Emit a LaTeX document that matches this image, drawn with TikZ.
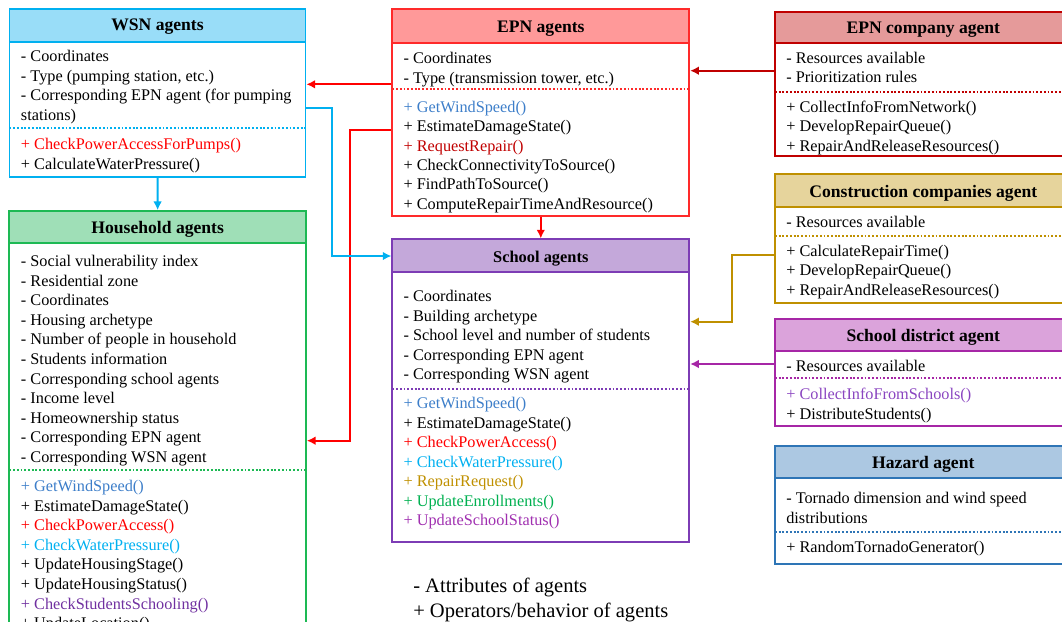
\documentclass[tikz,border=0pt]{standalone}
\usepackage{fontspec}
\setmainfont{Liberation Serif}
\usetikzlibrary{arrows.meta,fit}
\definecolor{cwsn}{HTML}{00B0F0}\definecolor{fwsn}{HTML}{99DDF8}
\definecolor{cepn}{HTML}{FF2A2A}\definecolor{fepn}{HTML}{FF9999}
\definecolor{chh}{HTML}{1DB954}\definecolor{fhh}{HTML}{9FDFB7}
\definecolor{csch}{HTML}{7D3CB5}\definecolor{fsch}{HTML}{C4A8DA}
\definecolor{cco}{HTML}{C00000}\definecolor{fco}{HTML}{E59A9A}
\definecolor{ccon}{HTML}{BF9000}\definecolor{fcon}{HTML}{E6D49C}
\definecolor{cdis}{HTML}{A626A6}\definecolor{fdis}{HTML}{DBA3DB}
\definecolor{chaz}{HTML}{2E75B6}\definecolor{fhaz}{HTML}{ACC8E2}
\definecolor{cwind}{HTML}{3D7EC9}
\definecolor{cpow}{HTML}{FF0000}
\definecolor{cwat}{HTML}{00B0F0}
\definecolor{crep}{HTML}{C00000}
\definecolor{cgold}{HTML}{BF9000}
\definecolor{cenr}{HTML}{00B050}
\definecolor{cstat}{HTML}{A030B0}
\definecolor{cstud}{HTML}{7030A0}
\definecolor{ccoll}{HTML}{8A45C0}
\newcommand{\agentbox}[9]{%
  \fill[#9] (#2,#3) rectangle (#4,#6);
  \node[fit={(#2,#3)(#4,#5)}, inner sep=0pt, draw=#8, line width=1.3pt] (#1) {};
  \draw[#8, line width=1.3pt] (#2,#6) -- (#4,#6);
  \draw[#8, line width=1.4pt, dash pattern=on 1.4pt off 1.4pt] (#2,#7) -- (#4,#7);
}
\newcommand{\agentlines}[5]{%
  \foreach [count=\i from 0] \t in {#5} \node[txt] (#1\i) at (#2,{#3+#4*\i}) {\t};
}
\begin{document}
\begin{tikzpicture}[x=0.75pt,y=-0.75pt,
  txt/.style={anchor=base west, inner sep=0pt, font=\fontsize{12.2}{14}\selectfont},
  ttl/.style={anchor=base, inner sep=0pt, font=\bfseries\fontsize{13.2}{15}\selectfont},
  conn/.style={line width=1.5pt, -{Latex[length=6.5pt,width=6.5pt]}}]
\useasboundingbox (0,0) rectangle (1062,621);
\clip (0,0) rectangle (1062,621);

% WSN
\agentbox{wsn}{9.5}{9}{305.5}{176.7}{41.7}{127.7}{cwsn}{fwsn}
\node[ttl] (wsnT) at (157.5,30.5) {WSN agents};
\agentlines{wsnA}{20.7}{61.5}{19.5}{{- Coordinates},{- Type (pumping station, etc.)},{- Corresponding EPN agent (for pumping},{stations)}}
\agentlines{wsnM}{20.7}{149.8}{19.2}{{\color{cpow}+ CheckPowerAccessForPumps()},{+ CalculateWaterPressure()}}

% Household
\agentbox{hh}{9.3}{211}{306}{660}{243.3}{470}{chh}{fhh}
\node[ttl] (hhT) at (157.7,233.5) {Household agents};
\agentlines{hhA}{20.7}{266.5}{19.6}{{- Social vulnerability index},{- Residential zone},{- Coordinates},{- Housing archetype},{- Number of people in household},{- Students information},{- Corresponding school agents},{- Income level},{- Homeownership status},{- Corresponding EPN agent},{- Corresponding WSN agent}}
\agentlines{hhM}{20.7}{491.5}{19.6}{{\color{cwind}+ GetWindSpeed()},{+ EstimateDamageState()},{\color{cpow}+ CheckPowerAccess()},{\color{cwat}+ CheckWaterPressure()},{+ UpdateHousingStage()},{+ UpdateHousingStatus()},{\color{cstud}+ CheckStudentsSchooling()},{+ UpdateLocation()}}

% EPN
\agentbox{epn}{392.3}{9.3}{689.3}{216}{43.3}{89.3}{cepn}{fepn}
\node[ttl] (epnT) at (540.8,32.8) {EPN agents};
\agentlines{epnA}{403.3}{63.8}{19.4}{{- Coordinates},{- Type (transmission tower, etc.)}}
\agentlines{epnM}{403.3}{112.2}{19.4}{{\color{cwind}+ GetWindSpeed()},{+ EstimateDamageState()},{\color{crep}+ RequestRepair()},{+ CheckConnectivityToSource()},{+ FindPathToSource()},{+ ComputeRepairTimeAndResource()}}

% School
\agentbox{sch}{392.3}{239.3}{689.3}{541.7}{272.3}{389}{csch}{fsch}
\node[ttl, font=\bfseries\fontsize{12.3}{14}\selectfont] (schT) at (540.8,262) {School agents};
\agentlines{schA}{403.3}{301.5}{19.5}{{- Coordinates},{- Building archetype},{- School level and number of students},{- Corresponding EPN agent},{- Corresponding WSN agent}}
\agentlines{schM}{403.3}{408.8}{19.5}{{\color{cwind}+ GetWindSpeed()},{+ EstimateDamageState()},{\color{cpow}+ CheckPowerAccess()},{\color{cwat}+ CheckWaterPressure()},{\color{cgold}+ RepairRequest()},{\color{cenr}+ UpdateEnrollments()},{\color{cstat}+ UpdateSchoolStatus()}}

% EPN company
\agentbox{co}{775}{11.7}{1071.6}{156}{43.3}{92.3}{cco}{fco}
\node[ttl] (coT) at (923.3,33.8) {EPN company agent};
\agentlines{coA}{786}{63.8}{19}{{- Resources available},{- Prioritization rules}}
\agentlines{coM}{786}{112.2}{19.4}{{+ CollectInfoFromNetwork()},{+ DevelopRepairQueue()},{+ RepairAndReleaseResources()}}

% Construction
\agentbox{con}{775}{174.3}{1071.6}{302.7}{206.7}{236}{ccon}{fcon}
\node[ttl] (conT) at (923.3,197.2) {Construction companies agent};
\agentlines{conA}{786}{227.2}{19.6}{{- Resources available}}
\agentlines{conM}{786}{256.2}{19.6}{{+ CalculateRepairTime()},{+ DevelopRepairQueue()},{+ RepairAndReleaseResources()}}

% School district
\agentbox{dis}{775}{319}{1071.6}{425.7}{351}{378.3}{cdis}{fdis}
\node[ttl] (disT) at (923.3,341.5) {School district agent};
\agentlines{disA}{786}{371.2}{19.7}{{- Resources available}}
\agentlines{disM}{786}{399.8}{19.7}{{\color{ccoll}+ CollectInfoFromSchools()},{+ DistributeStudents()}}

% Hazard
\agentbox{haz}{775}{445.7}{1071.6}{564}{477.7}{532.3}{chaz}{fhaz}
\node[ttl] (hazT) at (923.3,468.8) {Hazard agent};
\agentlines{hazA}{786}{503.8}{19.5}{{- Tornado dimension and wind speed},{distributions}}
\agentlines{hazM}{786}{552.2}{19.5}{{+ RandomTornadoGenerator()}}

% Legend
\node[txt, font=\fontsize{15.4}{18}\selectfont] (leg1) at (413,592) {- Attributes of agents};
\node[txt, font=\fontsize{15.4}{18}\selectfont] (leg2) at (413,617) {+ Operators/behavior of agents};

% Connectors
\draw[conn, cpow] (epn.west |- 0,84.3) -- (wsn.east |- 0,84.3);
\draw[conn, cpow] (epn.west |- 0,130) -| (349.5,300) |- (hh.east |- 0,440.7);
\draw[conn, cwsn] (wsn.south) -- (hh.north);
\draw[conn, cwsn] (wsn.east |- 0,108.3) -| (332,200) |- (sch.west |- 0,256);
\draw[conn, cpow] (epn.south) -- (sch.north);
\draw[conn, cco] (co.west |- 0,70.7) -- (epn.east |- 0,70.7);
\draw[conn, ccon] (con.west |- 0,255) -| (732.3,300) |- (sch.east |- 0,321.7);
\draw[conn, cdis] (dis.west |- 0,364) -- (sch.east |- 0,364);
\end{tikzpicture}
\end{document}
